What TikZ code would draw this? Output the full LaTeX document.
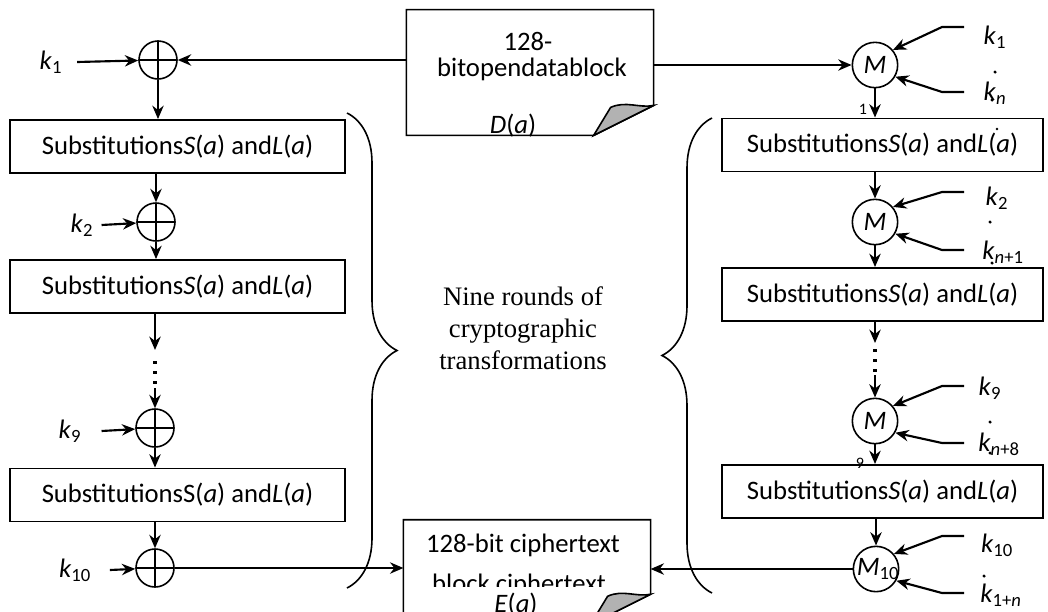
\documentclass[tikz,border=0pt]{standalone}
\usepackage{fontspec}
\setmainfont{Carlito}
\newfontfamily\midfont{Liberation Serif}
\usetikzlibrary{arrows.meta,calc,decorations.pathreplacing}

\newcommand{\kk}[1]{\textit{k}\textsubscript{#1}}
\newcommand{\subst}[1]{Substitutions#1(\textit{a}) and\textit{L}(\textit{a})}

\begin{document}
\begin{tikzpicture}[x=0.75pt,y=-0.75pt,
    font=\fontsize{20}{24}\selectfont,
    arr/.style={draw,line width=1.6pt,-{Stealth[length=10pt,width=8.5pt]}},
    box/.style={draw,line width=1.2pt,minimum width=251pt,minimum height=40pt,inner sep=0pt},
    rbox/.style={box,minimum width=241pt},
    xorc/.style={circle,draw,line width=1.2pt,minimum size=28.5pt,inner sep=0pt,
      path picture={\draw[line width=1.2pt] (path picture bounding box.north) -- (path picture bounding box.south)
        (path picture bounding box.west) -- (path picture bounding box.east);}},
    mixc/.style={circle,draw,line width=1.2pt,minimum size=34pt,inner sep=0pt,font=\fontsize{20}{24}\selectfont\itshape},
    key/.style={inner sep=0pt},
    dotseg/.style={line width=2.4pt,dash pattern=on 2pt off 5.5pt},
    brc/.style={decorate,decoration={brace,amplitude=37.5pt},line width=1.2pt},
    docline/.style={draw,line width=1.2pt},
    docbody/.style={minimum width=185pt,minimum height=94pt,inner sep=0pt},
    fold/.style={draw,line width=1.2pt,fill=gray!60},
    vdot/.style={circle,fill,inner sep=0pt,minimum size=2.6pt},
    tiny/.style={font=\fontsize{12}{14}\selectfont,inner sep=0pt}
  ]
  \useasboundingbox (0,0) rectangle (1048,611);

  % plaintext block
  \node[docbody] (pdoc) at (530,72.5) {};
  \draw[docline] (pdoc.north west) -- (pdoc.north east) -- ($(pdoc.south east)+(0,-30)$)
    -- ($(pdoc.south east)+(-60,0)$) -- (pdoc.south west) -- cycle;
  \draw[fold] ($(pdoc.south east)+(-60,0)$) -- ($(pdoc.south east)+(-43,-28)$)
    .. controls ($(pdoc.south east)+(-28,-35)$) and ($(pdoc.south east)+(-14,-27)$) .. ($(pdoc.south east)+(0,-30)$) -- cycle;
  \node[anchor=base] (ptop) at (528,50) {128-};
  \node[anchor=base] (pmid) at (532,76) {bitopendatablock};
  \node[anchor=base] (pda) at (513,133) {\textit{D}(\textit{a})};

  % ciphertext block
  \node[docbody,minimum height=78pt] (cdoc) at (527,572) {};
  \draw[docline] (cdoc.north west) -- (cdoc.north east) -- ($(cdoc.south east)+(0,-30)$)
    -- ($(cdoc.south east)+(-60,0)$) -- (cdoc.south west) -- cycle;
  \node[anchor=base] (ctop) at (523,552) {128-bit ciphertext};
  \node[anchor=base] (cmid) at (519,592) {block ciphertext};
  \node[fill=white,minimum width=150pt,inner sep=4pt,anchor=north] (cea) at (516,587) {\textit{E}(\textit{a})};
  \draw[fold] ($(cdoc.south east)+(-60,0)$) -- ($(cdoc.south east)+(-43,-28)$)
    .. controls ($(cdoc.south east)+(-28,-35)$) and ($(cdoc.south east)+(-14,-27)$) .. ($(cdoc.south east)+(0,-30)$) -- cycle;

  % left: encryption with xor
  \node[xorc] (x1) at (158,60) {};
  \node[box] (lb1) at (177.5,146.5) {\subst{\textit{S}}};
  \node[xorc] (x2) at (156,222) {};
  \node[box] (lb2) at (177.5,286.5) {\subst{\textit{S}}};
  \node[xorc] (x9) at (155,428) {};
  \node[box] (lb3) at (177.5,495) {\subst{S}};
  \node[xorc] (x10) at (155,568) {};
  \node[key] (k1) at (51,62) {\kk{1}};
  \node[key] (k2) at (82,225) {\kk{2}};
  \node[key] (k9) at (70,431) {\kk{9}};
  \node[key] (k10) at (75,570) {\kk{10}};
  \coordinate (dl1) at (155,350);
  \coordinate (dl2) at (155,361);
  \coordinate (dl3) at (155,388);

  \draw[arr] (pdoc.west |- x1) -- (x1);
  \draw[arr] ([xshift=11pt]k1.east) -- (x1);
  \draw[arr] (x1) -- (x1 |- lb1.north);
  \draw[arr] (lb1.south -| x2) -- (x2);
  \draw[arr] ([xshift=6pt]k2.east) -- (x2);
  \draw[arr] (x2) -- (x2 |- lb2.north);
  \draw[arr] (lb2.south -| dl1) -- (dl1);
  \draw[dotseg] (dl2) -- (dl3);
  \draw[arr] (dl3) -- (x9);
  \draw[arr] ([xshift=15pt]k9.east) -- (x9);
  \draw[arr] (x9) -- (x9 |- lb3.north);
  \draw[arr] (lb3.south -| x10) -- (x10);
  \draw[arr] ([xshift=14pt]k10.east) -- (x10);
  \draw[arr] (x10) -- (cdoc.west |- x10);

  % middle
  \coordinate (lbt) at (347,113);
  \coordinate (lbb) at (347,588);
  \coordinate (rbb) at (712,593);
  \coordinate (rbt) at (712,118);
  \draw[brc] (lbt) -- (lbb);
  \draw[brc] (rbb) -- (rbt);
  \node[align=center,font=\midfont\fontsize{20}{24}\selectfont] (rounds) at (523,328)
    {Nine rounds of\\cryptographic\\transformations};

  % right: encryption with M
  \node[mixc] (m1) at (875,65) {M};
  \node[rbox] (rb1) at (882.5,145) {\subst{\textit{S}}};
  \node[mixc] (m2) at (875,222) {M};
  \node[rbox] (rb2) at (882.5,294.5) {\subst{\textit{S}}};
  \node[mixc] (m9) at (875,421) {M};
  \node[rbox] (rb3) at (882.5,491.5) {\subst{\textit{S}}};
  \node[mixc] (m10) at (876,569) {};
  \node[font=\fontsize{20}{24}\selectfont,inner sep=0pt] (m10t) at (878,569) {\textit{M}\textsubscript{10}};
  \node[tiny] (m1n) at (863,109) {1};
  \node[tiny] (m9n) at (860,463) {9};
  \coordinate (dr1) at (875,343);
  \coordinate (dr2) at (875,349);
  \coordinate (dr3) at (875,375);

  \draw[arr] (pdoc.east |- m1) -- (m1);
  \draw[arr] (m1) -- (m1 |- rb1.north);
  \draw[arr] (rb1.south -| m2) -- (m2);
  \draw[arr] (m2) -- (m2 |- rb2.north);
  \draw[arr] (rb2.south -| dr1) -- (dr1);
  \draw[dotseg] (dr2) -- (dr3);
  \draw[arr] (dr3) -- (m9);
  \draw[arr] (m9) -- (m9 |- rb3.north);
  \draw[arr] (rb3.south -| m10) -- (m10);
  \draw[arr] (m10) -- (cdoc.east |- m10);

  % round keys of M
  \node[key] (r1u) at (995,37) {\kk{1}};
  \node[key] (r1l) at (995,93) {\kk{\textit{n}}};
  \node[key] (r2u) at (997,198) {\kk{2}};
  \node[key] (r2l) at (1003,252) {\kk{\textit{n}+1}};
  \node[key] (r9u) at (990,388) {\kk{9}};
  \node[key] (r9l) at (999,444) {\kk{\textit{n}+8}};
  \node[key] (r10u) at (997,545) {\kk{10}};
  \node[key] (r10l) at (1001,595) {\kk{1+\textit{n}}};
  \node[vdot] (d1a) at (995,72) {};
  \node[vdot] (d1b) at (992,100) {};
  \node[vdot] (d2a) at (990,222) {};
  \node[vdot] (d2b) at (992,263) {};
  \node[vdot] (d9a) at (990,422) {};
  \node[vdot] (d9b) at (990,453) {};
  \node[vdot] (d10a) at (984,576) {};
  \node[vdot,minimum size=2pt] (dl) at (997,129) {};
  \foreach \m/\yu/\yl in {m1/27/92,m2/192/250,m9/386/443,m10/536/593}{
    \coordinate (\m su) at (964,\yu);
    \coordinate (\m bu) at (942,\yu);
    \coordinate (\m sl) at (964,\yl);
    \coordinate (\m bl) at (942,\yl);
    \draw[arr] (\m su) -- (\m bu) -- (\m.40);
    \draw[arr] (\m sl) -- (\m bl) -- (\m.-30);
  }
\end{tikzpicture}
\end{document}
